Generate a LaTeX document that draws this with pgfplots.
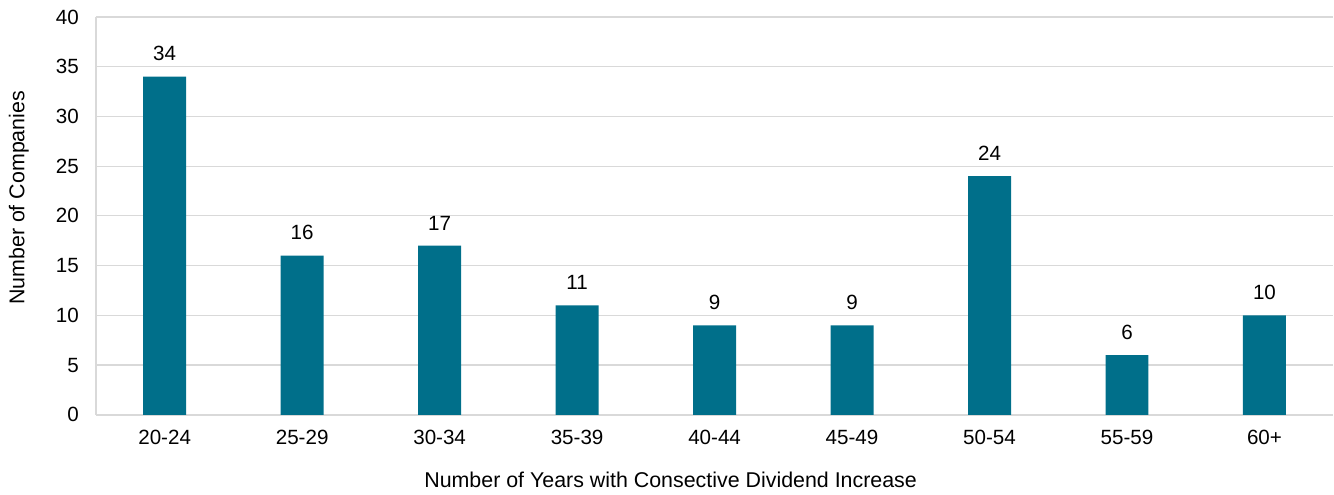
\documentclass[border=0pt]{standalone}
\usepackage{pgfplots}
\pgfplotsset{compat=1.18}
\usepackage{fontspec}
\setmainfont{Liberation Sans}
\definecolor{barc}{RGB}{0,111,138}
\definecolor{gridc}{RGB}{217,217,217}
\begin{document}
\begin{tikzpicture}
\begin{axis}[
  scale only axis, width=619pt, height=199pt,
  ymin=0, ymax=40, ytick={0,5,...,40},
  xmin=-0.5, xmax=8.5,
  xtick={0,...,8},
  xticklabels={20-24,25-29,30-34,35-39,40-44,45-49,50-54,55-59,60+},
  ybar, bar width=21.5pt,
  axis x line=bottom, axis y line=left,
  axis line style={-, draw=gridc, line width=0.8pt},
  ymajorgrids, grid style={draw=gridc, line width=0.6pt},
  major tick length=0pt,
  tick label style={font=\fontsize{10.3}{12}\selectfont},
  /pgf/number format/assume math mode=true,
  yticklabel style={xshift=-5pt},
  xticklabel style={yshift=-4pt},
  ylabel={Number of Companies},
  xlabel={Number of Years with Consective Dividend Increase},
  label style={font=\fontsize{10.7}{12}\selectfont},
  ylabel style={at={(axis description cs:0,0.5)}, anchor=south, xshift=9pt, yshift=30pt},
  xlabel style={at={(axis description cs:0.5,0)}, anchor=center, xshift=-22pt, yshift=-32.5pt},
  nodes near coords,
  every node near coord/.append style={font=\fontsize{10.3}{12}\selectfont, yshift=4.3pt},
  clip=false,
]
\addplot[fill=barc, draw=none] coordinates {(0,34) (1,16) (2,17) (3,11) (4,9) (5,9) (6,24) (7,6) (8,10)};
\end{axis}
\path[draw=none] ([xshift=-48pt,yshift=-37.5pt]current axis.south west) rectangle ([yshift=8.5pt]current axis.north east);
\end{tikzpicture}
\end{document}
